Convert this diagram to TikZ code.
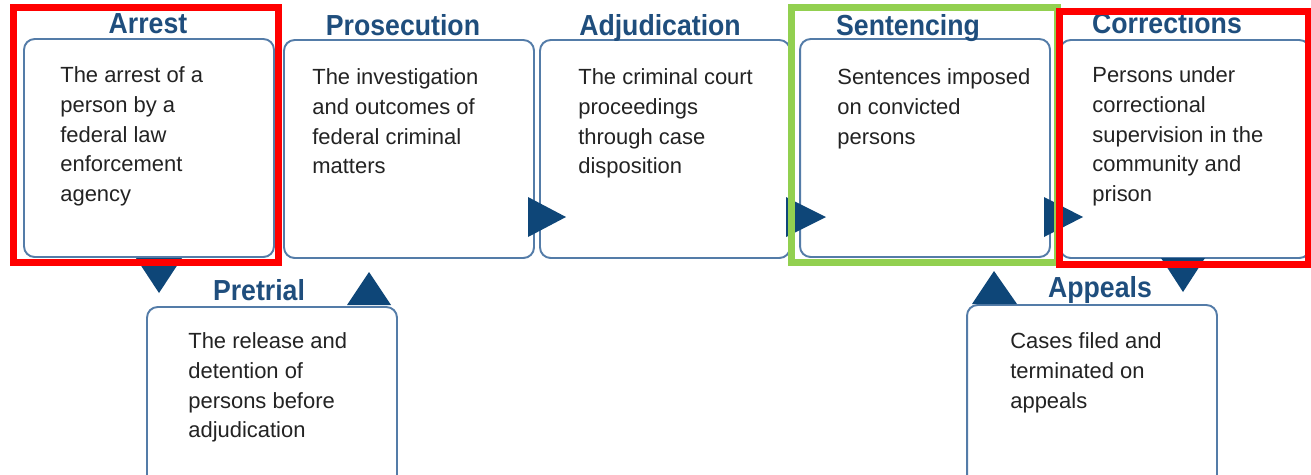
\documentclass[tikz,border=0pt]{standalone}
\usepackage{fontspec}
\setmainfont{Liberation Sans}
\definecolor{boxline}{RGB}{84,124,168}
\definecolor{titleblue}{RGB}{31,78,125}
\definecolor{tipblue}{RGB}{14,70,120}
\definecolor{bodytext}{RGB}{35,35,35}
\definecolor{markred}{RGB}{255,0,0}
\definecolor{markgreen}{RGB}{146,208,80}

\begin{document}
\begin{tikzpicture}[x=0.02cm,y=-0.02cm,
	stagebox/.style={draw=boxline, line width=1.1pt, rounded corners=6pt, fill=white, minimum width=5cm, minimum height=4.36cm, inner sep=0pt},
	stagetitle/.style={anchor=base, text=titleblue, font=\fontsize{16.5}{20}\selectfont\bfseries, xscale=0.92, inner sep=0pt},
	stagetext/.style={anchor=north west, align=left, text=bodytext, font=\fontsize{12.5}{17}\selectfont, xscale=1.0, inner sep=0pt},
	flowtip/.style={fill=tipblue},
	markbox/.style={line width=0.14cm}]
			 \clip (0,0) rectangle (1311,474);
			 \node[stagebox] (arrest) at (149,148) {};
			 \node[stagebox] (prosecution) at (409,149) {};
			 \node[stagebox] (adjudication) at (665,149) {};
			 \node[stagebox] (sentencing) at (925,148) {};
			 \node[stagebox] (corrections) at (1185,149) {};
			 \node[stagebox] (pretrial) at (272,416) {};
			 \node[stagebox] (appeals) at (1092,414) {};

			 \node[stagetitle] (arresttitle) at (148,33) {Arrest};
			 \node[stagetitle] (prosecutiontitle) at (403,35) {Prosecution};
			 \node[stagetitle] (adjudicationtitle) at (660,35) {Adjudication};
			 \node[stagetitle] (sentencingtitle) at (908,35) {Sentencing};
			 \node[stagetitle] (correctionstitle) at (1167,33) {Corrections};
			 \node[stagetitle] (pretrialtitle) at (259,300) {Pretrial};
			 \node[stagetitle] (appealstitle) at (1100,297) {Appeals};

			 \node[stagetext] (arresttext) at (60,66) {The arrest of a\\person by a\\federal law\\enforcement\\agency};
			 \node[stagetext] (prosecutiontext) at (312,68) {The investigation\\and outcomes of\\federal criminal\\matters};
			 \node[stagetext] (adjudicationtext) at (578,68) {The criminal court\\proceedings\\through case\\disposition};
			 \node[stagetext] (sentencingtext) at (837,68) {Sentences imposed\\on convicted\\persons};
			 \node[stagetext] (correctionstext) at (1092,66) {Persons under\\correctional\\supervision in the\\community and\\prison};
			 \node[stagetext] (pretrialtext) at (188,332) {The release and\\detention of\\persons before\\adjudication};
			 \node[stagetext] (appealstext) at (1010,332) {Cases filed and\\terminated on\\appeals};

			 \fill[flowtip] (136,258) -- (182,258) -- (159,293) -- cycle;
			 \fill[flowtip] (347,305) -- (391,305) -- (369,272) -- cycle;
			 \fill[flowtip] (528,197) -- (528,237) -- (566,217) -- cycle;
			 \fill[flowtip] (786,197) -- (786,237) -- (826,217) -- cycle;
			 \fill[flowtip] (1044,197) -- (1044,237) -- (1083,217) -- cycle;
			 \fill[flowtip] (972,304) -- (1017,304) -- (994,271) -- cycle;
			 \fill[flowtip] (1161,258) -- (1205,258) -- (1183,292) -- cycle;

			 \draw[markbox, draw=markgreen] (791.5,7.5) rectangle (1057.5,262.5);
			 \draw[markbox, draw=markred] (13.5,7.5) rectangle (278.5,262.5);
			 \draw[markbox, draw=markred] (1059.5,11) rectangle (1308,264.5);
		 \end{tikzpicture}
\end{document}
